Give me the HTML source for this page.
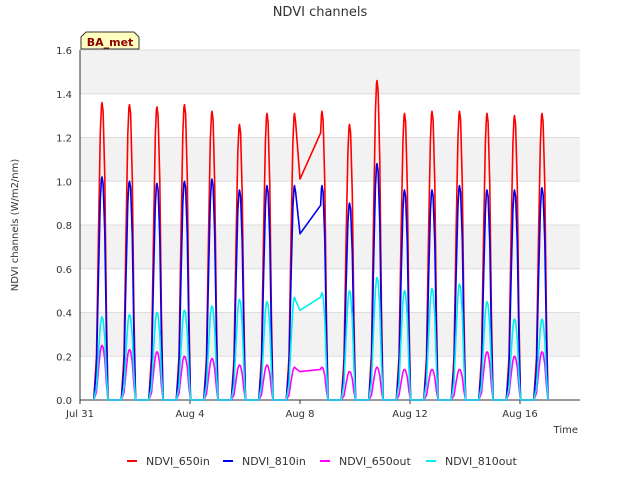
<!DOCTYPE html>
<html><head><meta charset="utf-8"><style>
body{margin:0;background:#fff;font-family:"Liberation Sans","DejaVu Sans",sans-serif}
svg text{font-family:"DejaVu Sans","Liberation Sans",sans-serif}
</style></head><body>
<svg id="c" width="640" height="480" xmlns="http://www.w3.org/2000/svg"></svg>
<script>
const dayLabels=["Jul 31","Aug 4","Aug 8","Aug 12","Aug 16"];
const dayTicks=[0,4,8,12,16];
const yTicks=[0,0.2,0.4,0.6,0.8,1.0,1.2,1.4,1.6];
const peakDays=[0.8,1.8,2.8,3.8,4.8,5.8,6.8,7.8,8.8,9.8,10.8,11.8,12.8,13.8,14.8,15.8,16.8];
const red650in=[1.36,1.35,1.34,1.35,1.32,1.26,1.31,1.31,1.32,1.26,1.46,1.31,1.32,1.32,1.31,1.30,1.31];
const blue810in=[1.02,1.0,0.99,1.0,1.01,0.96,0.98,0.98,0.98,0.9,1.08,0.96,0.96,0.98,0.96,0.96,0.97];
const mag650out=[0.25,0.23,0.22,0.20,0.19,0.16,0.16,0.15,0.15,0.13,0.15,0.14,0.14,0.14,0.22,0.20,0.22];
const cyan810out=[0.38,0.39,0.40,0.41,0.43,0.46,0.45,0.47,0.49,0.50,0.56,0.50,0.51,0.53,0.45,0.37,0.37];
const profOffset=[-0.3,-0.2,-0.12,-0.06,-0.02,0,0.04,0.1,0.16,0.22];
const profFrac=[0,0.15,0.6,0.9,0.99,1,0.97,0.75,0.3,0];
// bridge over Aug 8 (missing night data) for each series: start, end values
const bridgeRed=[1.01,1.22], bridgeBlue=[0.76,0.89], bridgeMag=[0.13,0.14], bridgeCyan=[0.41,0.47];
const bridgeDays=[8.0,8.75], bridgeIdx=7;

const svg=document.getElementById('c');const NS='http://www.w3.org/2000/svg';
const X0=80,X1=580,Y0=400,Y1=50;
const xs=d=>X0+d*27.5, ys=v=>Y0-(v/1.6)*(Y0-Y1);
function el(t,a,p){const e=document.createElementNS(NS,t);for(const k in a)e.setAttribute(k,a[k]);(p||svg).appendChild(e);return e;}
el('rect',{x:X0,y:Y1,width:X1-X0,height:Y0-Y1,fill:'#fff'});
for(let i=0;i<8;i++){ if(i%2==1){const b=el('rect',{x:X0,y:ys(yTicks[i+1]),width:X1-X0,height:ys(yTicks[i])-ys(yTicks[i+1]),fill:'#f2f2f2'});}}
yTicks.forEach(v=>{el('line',{x1:X0,x2:X1,y1:ys(v),y2:ys(v),stroke:'#ddd'});
const t=el('text',{x:X0-8,y:ys(v)+4,'text-anchor':'end','font-size':10,fill:'#333'});t.textContent=v.toFixed(1);
});
dayTicks.forEach((d,i)=>{el('line',{x1:xs(d),x2:xs(d),y1:Y0,y2:Y0+4,stroke:'#333'});
const t=el('text',{x:xs(d),y:Y0+17,'text-anchor':'middle','font-size':10,fill:'#333'});t.textContent=dayLabels[i];
});
el('line',{x1:X0,x2:X0,y1:Y1,y2:Y0,stroke:'#333'});el('line',{x1:X0,x2:X1,y1:Y0,y2:Y0,stroke:'#333'});
function series(vals,br,color,name){let pts=[];
peakDays.forEach((pd,i)=>{profOffset.forEach((o,j)=>{
 if(i==bridgeIdx&&o>0.05)return; if(i==bridgeIdx+1&&o<-0.03)return;
 pts.push([pd+o,vals[i]*profFrac[j]]);});
 if(i==bridgeIdx){pts.push([bridgeDays[0],br[0]]);pts.push([bridgeDays[1],br[1]]);}});
const p=el('polyline',{points:pts.map(q=>xs(q[0]).toFixed(1)+','+ys(q[1]).toFixed(1)).join(' '),fill:'none',stroke:color,'stroke-width':1.6,'stroke-linejoin':'round'});
}
series(red650in,bridgeRed,'#ff0000','series-ndvi-650in');
series(blue810in,bridgeBlue,'#0000ee','series-ndvi-810in');
series(mag650out,bridgeMag,'#ff00ff','series-ndvi-650out');
series(cyan810out,bridgeCyan,'#00eeee','series-ndvi-810out');
let t=el('text',{x:320,y:16,'text-anchor':'middle','font-size':13,fill:'#333'});t.textContent='NDVI channels';
t=el('text',{x:18,y:225,'text-anchor':'middle','font-size':10,fill:'#333',transform:'rotate(-90 18 225)'});t.textContent='NDVI channels (W/m2/nm)';
t=el('text',{x:578,y:433,'text-anchor':'end','font-size':10,fill:'#333'});t.textContent='Time';
const g=el('g',{});
el('path',{d:'M81,49 L81,37 L86,32 L134,32 L139,37 L139,49 Z',fill:'#ffffc0',stroke:'#333'},g);
t=el('text',{x:110,y:46,'text-anchor':'middle','font-size':11,'font-weight':'bold',fill:'#8b0000'},g);t.textContent='BA_met';
const leg=[['NDVI_650in','#ff0000',127],['NDVI_810in','#0000ee',223],['NDVI_650out','#ff00ff',320],['NDVI_810out','#00eeee',426]];
leg.forEach(l=>{const lg=el('g',{});
el('line',{x1:l[2],x2:l[2]+10,y1:461,y2:461,stroke:l[1],'stroke-width':2},lg);
const tt=el('text',{x:l[2]+19,y:465,'font-size':11,fill:'#333'},lg);tt.textContent=l[0];});
</script>
</body></html>
